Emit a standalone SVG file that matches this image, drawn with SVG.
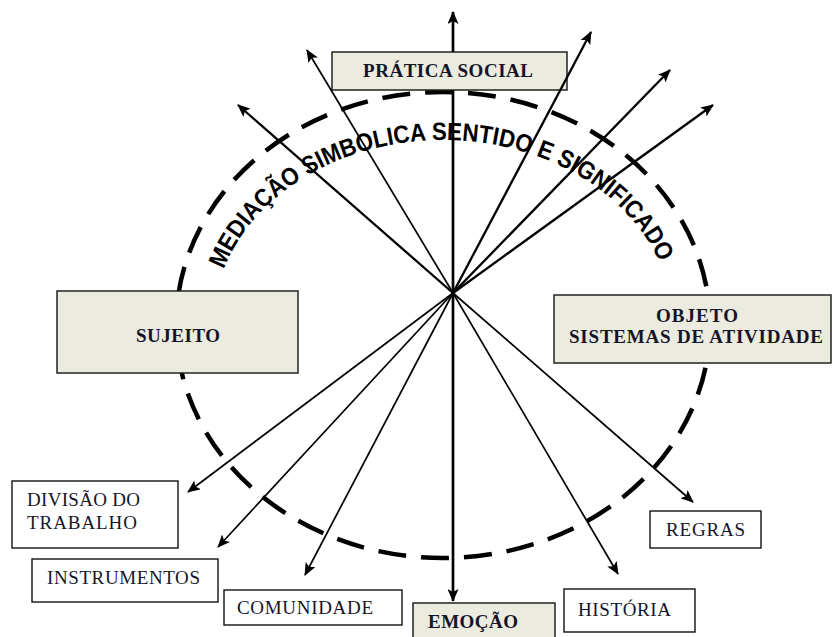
<svg xmlns="http://www.w3.org/2000/svg" width="833" height="637" viewBox="0 0 833 637">
<style>
.bx{fill:#fff;stroke:#111;stroke-width:1.4}
.bg{fill:#ECEBE0;stroke:#222;stroke-width:1.5}
.t{font-family:"Liberation Serif","Times New Roman",serif;font-size:19px;fill:#15152a}
.b{font-weight:bold}
.ln{stroke:#000;fill:none}
.arc{font-family:"Liberation Sans",Arial,sans-serif;font-size:25px;font-weight:bold;fill:#000}
</style>
<defs>
<marker id="ah" viewBox="0 0 13 11" refX="12" refY="5.5" markerWidth="13" markerHeight="11" orient="auto" markerUnits="userSpaceOnUse"><path d="M0,0 L13,5.5 L0,11 L3,5.5 z" fill="#000"/></marker>
<path id="arcp" d="M213,325 A230,185 0 0 1 673,325"/>
</defs>
<ellipse cx="443" cy="325" rx="267" ry="233" fill="none" stroke="#000" stroke-width="4.5" stroke-dasharray="28 15"/>
<text class="arc" textLength="532" lengthAdjust="spacingAndGlyphs"><textPath href="#arcp" startOffset="57">MEDIAÇÃO SIMBOLICA SENTIDO E SIGNIFICADO</textPath></text>
<g id="pratica"><rect class="bg" x="332" y="52" width="235" height="38"/><text class="t b" x="448" y="77" text-anchor="middle" textLength="170">PRÁTICA SOCIAL</text></g>
<g id="sujeito"><rect class="bg" x="57" y="291" width="241" height="82"/><text class="t b" x="178" y="342" text-anchor="middle" textLength="84">SUJEITO</text></g>
<g id="objeto"><rect class="bg" x="554" y="295" width="277" height="68"/><text class="t b" x="697" y="322" text-anchor="middle" textLength="82">OBJETO</text><text class="t b" x="696" y="343" text-anchor="middle" textLength="254">SISTEMAS DE ATIVIDADE</text></g>
<g id="emocao"><rect class="bg" x="413" y="603" width="142" height="40"/><text class="t b" x="428" y="628" textLength="90">EMOÇÃO</text></g>
<g id="divisao"><rect class="bx" x="12" y="481" width="166" height="67"/><text class="t" x="27" y="506" textLength="113">DIVISÃO DO</text><text class="t" x="27" y="529" textLength="110">TRABALHO</text></g>
<g id="instrumentos"><rect class="bx" x="32" y="559" width="186" height="43"/><text class="t" x="47" y="584" textLength="153">INSTRUMENTOS</text></g>
<g id="comunidade"><rect class="bx" x="224" y="590" width="178" height="35"/><text class="t" x="237" y="614" textLength="136">COMUNIDADE</text></g>
<g id="historia"><rect class="bx" x="564" y="589" width="131" height="43"/><text class="t" x="578" y="616" textLength="93">HISTÓRIA</text></g>
<g id="regras"><rect class="bx" x="650" y="511" width="111" height="37"/><text class="t" x="666" y="536" textLength="79">REGRAS</text></g>
<g id="connectors" class="ln">
<line x1="453" y1="293" x2="453" y2="90" stroke-width="2.7"/>
<line x1="453" y1="52" x2="453" y2="12" stroke-width="2.7" marker-end="url(#ah)"/>
<line x1="453" y1="293" x2="453" y2="601" stroke-width="2.7" marker-end="url(#ah)"/>
<line x1="453" y1="293" x2="307" y2="50" stroke-width="1.7" marker-end="url(#ah)"/>
<line x1="453" y1="293" x2="238" y2="105" stroke-width="2.3" marker-end="url(#ah)"/>
<line x1="453" y1="293" x2="591" y2="32" stroke-width="2.3" marker-end="url(#ah)"/>
<line x1="453" y1="293" x2="670" y2="70" stroke-width="2.3" marker-end="url(#ah)"/>
<line x1="453" y1="293" x2="713" y2="105" stroke-width="2.3" marker-end="url(#ah)"/>
<line x1="453" y1="293" x2="188" y2="492" stroke-width="1.7" marker-end="url(#ah)"/>
<line x1="453" y1="293" x2="218" y2="547" stroke-width="1.7" marker-end="url(#ah)"/>
<line x1="453" y1="293" x2="305" y2="575" stroke-width="1.7" marker-end="url(#ah)"/>
<line x1="453" y1="293" x2="618" y2="574" stroke-width="1.7" marker-end="url(#ah)"/>
<line x1="453" y1="293" x2="693" y2="502" stroke-width="1.7" marker-end="url(#ah)"/>
</g>
</svg>
